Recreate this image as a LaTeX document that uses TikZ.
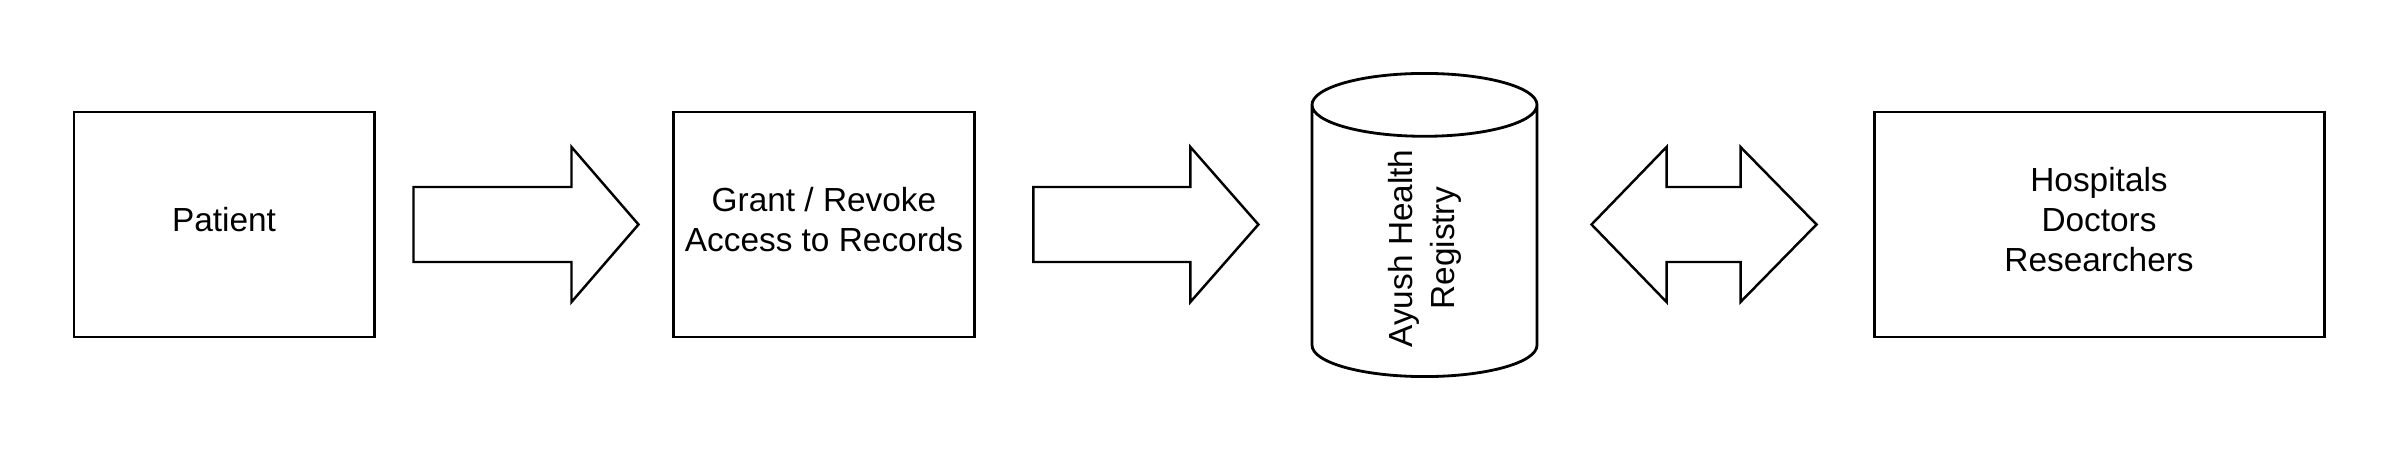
\documentclass[tikz,border=0pt]{standalone}
\usepackage{fontspec}
\setmainfont{Liberation Sans}
\usetikzlibrary{shapes.geometric,calc}

\begin{document}
\begin{tikzpicture}[
    box/.style={draw, line width=0.85pt, minimum height=2.25cm, align=center,
        text depth=0.1cm, font=\fontsize{9.5}{11.4}\selectfont},
    blockarr/.style={draw, line width=0.7pt, line join=miter},
    store/.style={cylinder, draw, line width=0.8pt, rotate=90, shape border rotate=0,
        minimum width=2.25cm, minimum height=3.02cm, aspect=0.65, align=center,
        font=\fontsize{9.5}{12}\selectfont},
]
\useasboundingbox (0,0) rectangle (24,4.5);

\node[box, minimum width=3cm] (patient) at (2.24,2.255) {Patient};
\node[box, minimum width=3cm] (grant) at (8.24,2.255) {Grant / Revoke\\Access to Records};
\node[store, anchor=shape center] (registry) at (14.245,2.25) {Ayush Health\\Registry};
\node[box, minimum width=4.5cm] (users) at (20.99,2.255) {Hospitals\\Doctors\\Researchers};

% block arrows
\draw[blockarr] ($(patient.east)+(0.38,0.375)$) -- ++(1.58,0) -- ++(0,0.4)
    -- ++(0.67,-0.775) -- ++(-0.67,-0.775) -- ++(0,0.4) -- ++(-1.58,0) -- cycle;
\draw[blockarr] ($(grant.east)+(0.57,0.375)$) -- ++(1.57,0) -- ++(0,0.4)
    -- ++(0.68,-0.775) -- ++(-0.68,-0.775) -- ++(0,0.4) -- ++(-1.57,0) -- cycle;
\draw[blockarr] ($(users.west)+(-2.81,0)$) -- ++(0.75,0.775) -- ++(0,-0.4)
    -- ++(0.74,0) -- ++(0,0.4) -- ++(0.76,-0.775) -- ++(-0.76,-0.775) -- ++(0,0.4)
    -- ++(-0.74,0) -- ++(0,-0.4) -- cycle;

\end{tikzpicture}
\end{document}
